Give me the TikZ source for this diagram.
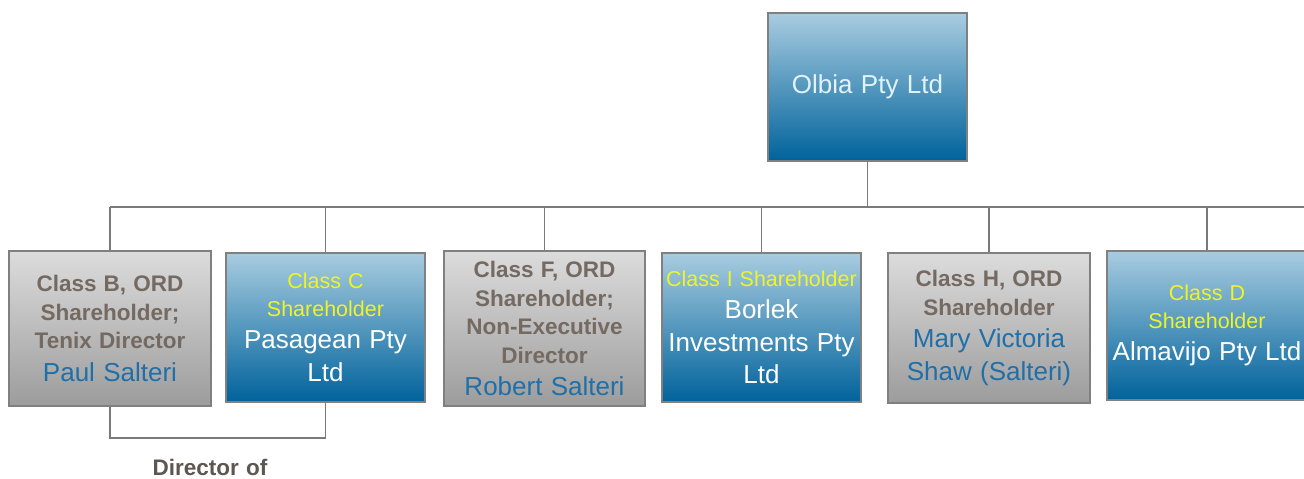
\documentclass[tikz,border=0pt]{standalone}
\usepackage{fontspec}
\setmainfont[WordSpace=1.15]{Liberation Sans}
\usetikzlibrary{calc}
\definecolor{linec}{HTML}{7A7A7A}
\definecolor{boxline}{HTML}{808080}
\definecolor{graytop}{HTML}{DCDCDC}
\definecolor{graybot}{HTML}{9C9C9C}
\definecolor{bluetop}{HTML}{A8CCE0}
\definecolor{bluebot}{HTML}{00629B}
\definecolor{hdrgray}{HTML}{746A62}
\definecolor{namblue}{HTML}{1F6FA8}
\definecolor{hdryel}{HTML}{EEF522}
\definecolor{olbiatxt}{HTML}{E2F2FA}
\definecolor{dirtxt}{HTML}{5E5650}
\tikzset{
  x=1pt,y=-1pt,
  basebox/.style={rectangle, draw=boxline, line width=1.4pt, inner sep=0pt},
  graybox/.style={basebox, top color=graytop, bottom color=graybot},
  bluebox/.style={basebox, top color=bluetop, bottom color=bluebot},
  conn/.style={draw=linec, line width=1.4pt},
}
\newcommand{\boxtext}[1]{\parbox[c]{198pt}{\parskip=0pt\parindent=0pt\centering #1}}
\newcommand{\hdrg}[1]{{\leavevmode\fontsize{22.5}{28.5}\selectfont\bfseries\color{hdrgray}#1\par}}
\newcommand{\hdry}[1]{{\leavevmode\fontsize{21.5}{27.5}\selectfont\color{hdryel}#1\par}}
\newcommand{\nmb}[1]{{\leavevmode\fontsize{26}{32.5}\selectfont\color{namblue}#1\par}}
\newcommand{\nmw}[1]{{\leavevmode\fontsize{26}{32.5}\selectfont\color{white}#1\par}}
\begin{document}
\begin{tikzpicture}
\useasboundingbox (0,0) rectangle (1304,479);
\begin{scope}
\clip (0,0) rectangle (1304,479);
\coordinate (busL) at (110,207);
\coordinate (busR) at (1304,207);
\coordinate (dirY) at (0,438);

\node[bluebox, minimum width=199pt, minimum height=148pt] (olbia) at (867.5,87)
  {\fontsize{26}{30}\selectfont\color{olbiatxt}Olbia Pty Ltd};

\node[graybox, minimum width=202pt, minimum height=155pt] (paul) at (110,328.5)
  {\boxtext{\hdrg{Class B, ORD}\hdrg{Shareholder;}\hdrg{Tenix Director}\nmb{Paul Salteri}}};

\node[bluebox, minimum width=199pt, minimum height=149pt] (pasa) at (325.5,327.5)
  {\boxtext{\hdry{Class C}\hdry{Shareholder}\nmw{Pasagean Pty}\nmw{Ltd}}};

\node[graybox, minimum width=201pt, minimum height=155pt] (robert) at (544.5,328.5)
  {\boxtext{\hdrg{Class F, ORD}\hdrg{Shareholder;}\hdrg{Non-Executive}\hdrg{Director}\nmb{Robert Salteri}}};

\node[bluebox, minimum width=199pt, minimum height=149pt] (borlek) at (761.5,327.5)
  {\boxtext{\hdry{Class I Shareholder}\nmw{Borlek}\nmw{Investments Pty}\nmw{Ltd}}};

\node[graybox, minimum width=202pt, minimum height=150pt] (mary) at (989,328)
  {\boxtext{\hdrg{Class H, ORD}\hdrg{Shareholder}\nmb{Mary Victoria}\nmb{Shaw (Salteri)}}};

\node[bluebox, minimum width=200pt, minimum height=149pt] (alma) at (1207,325.5)
  {\boxtext{\hdry{Class D}\hdry{Shareholder}\nmw{Almavijo Pty Ltd}}};

\node[font=\fontsize{22.5}{26}\selectfont\bfseries, text=dirtxt, inner sep=0pt] (dirlbl) at (210,467) {Director of};

\path[conn] (busL) -- (busR);
\path[conn] (olbia.south) -- (olbia.south |- busL);
\foreach \n in {paul,pasa,robert,borlek,mary,alma}
  \path[conn] (\n.north) -- (\n.north |- busL);
\path[conn] (paul.south) -- (paul.south |- dirY) -| (pasa.south);
\end{scope}
\end{tikzpicture}
\end{document}
